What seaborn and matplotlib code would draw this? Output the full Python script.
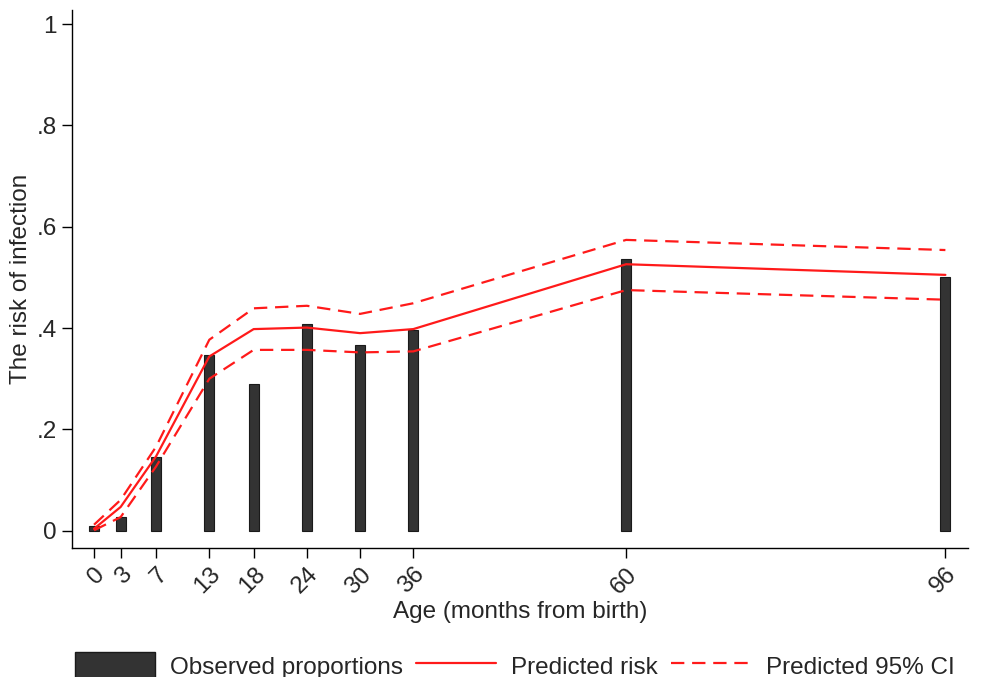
import numpy as np
import pandas as pd
import matplotlib
matplotlib.use('Agg')
import matplotlib.pyplot as plt
import seaborn as sns
from matplotlib.patches import Patch
from matplotlib.lines import Line2D

# data
ages = [0, 3, 7, 13, 18, 24, 30, 36, 60, 96]
observed = [0.010, 0.027, 0.146, 0.346, 0.290, 0.408, 0.367, 0.396, 0.536, 0.500]
pred_risk = [0.004, 0.047, 0.147, 0.344, 0.398, 0.401, 0.390, 0.398, 0.526, 0.505]
ci_upper = [0.012, 0.061, 0.166, 0.377, 0.439, 0.444, 0.428, 0.449, 0.574, 0.554]
ci_lower = [0.001, 0.027, 0.127, 0.300, 0.357, 0.357, 0.352, 0.354, 0.475, 0.456]
y_ticks = [0, 0.2, 0.4, 0.6, 0.8, 1]
y_ticklabels = ['0', '.2', '.4', '.6', '.8', '1']

df = pd.DataFrame({'age': ages, 'observed': observed, 'pred': pred_risk,
                   'upper': ci_upper, 'lower': ci_lower})

sns.set_style('white')
plt.rcParams['font.family'] = ['Liberation Sans', 'DejaVu Sans']

fs = 17.5
fig = plt.figure(figsize=(9.84, 6.77), dpi=100)
ax = fig.add_axes([0.0732, 0.1905, 0.911, 0.795])

bar_col = '#333333'
red = '#FF1A1A'
dash = (6, 3.5)

# observed proportions as thin bars on a numeric age axis
sns.barplot(data=df, x='age', y='observed', native_scale=True, width=0.38,
            color=bar_col, edgecolor='#1a1a1a', linewidth=0.8, saturation=1,
            ax=ax, zorder=2)
# predicted risk and 95% CI
sns.lineplot(data=df, x='age', y='pred', color=red, linewidth=1.6, ax=ax, zorder=3)
sns.lineplot(data=df, x='age', y='upper', color=red, linewidth=1.6, ax=ax, zorder=3)
ax.lines[-1].set_dashes(dash)
sns.lineplot(data=df, x='age', y='lower', color=red, linewidth=1.6, ax=ax, zorder=3)
ax.lines[-1].set_dashes(dash)

ax.set_xlim(-2.48, 98.6)
ax.set_ylim(-0.034, 1.028)
ax.set_xticks(ages)
ax.set_xticklabels([str(a) for a in ages], rotation=45, ha='right',
                   rotation_mode='anchor', fontsize=fs)
ax.set_yticks(y_ticks)
ax.set_yticklabels(y_ticklabels, fontsize=fs)
ax.tick_params(axis='both', direction='out', length=7, width=1, color='black',
               bottom=True, left=True, pad=4)
ax.set_xlabel('Age (months from birth)', fontsize=fs, labelpad=2)
ax.set_ylabel('The risk of infection', fontsize=fs, labelpad=3)

for s in ['top', 'right']:
    ax.spines[s].set_visible(False)
for s in ['left', 'bottom']:
    ax.spines[s].set_color('black')
    ax.spines[s].set_linewidth(1)
ax.grid(False)

handles = [Patch(facecolor=bar_col, edgecolor='#1a1a1a'),
           Line2D([], [], color=red, lw=1.6),
           Line2D([], [], color=red, lw=1.6, dashes=dash)]
labels = ['Observed proportions', 'Predicted risk', 'Predicted 95% CI']
fig.legend(handles, labels, loc='lower center', bbox_to_anchor=(0.523, -0.035),
           ncol=3, frameon=False, fontsize=fs, handlelength=3.3, handleheight=1.3,
           columnspacing=0.55, handletextpad=0.6)

fig.savefig('out.png', dpi=100)
